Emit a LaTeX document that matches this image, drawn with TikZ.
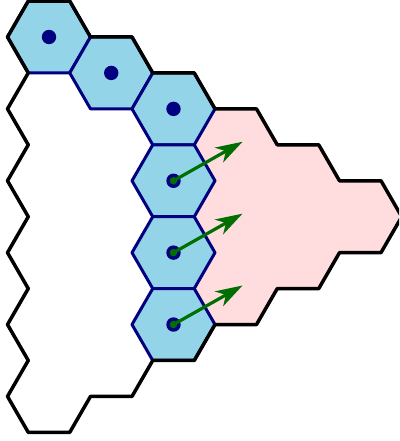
\documentclass[tikz,border=0pt]{standalone}
\usetikzlibrary{arrows.meta}
\definecolor{hexblue}{RGB}{147,212,232}
\definecolor{hexpink}{RGB}{255,220,221}
\definecolor{hexnavy}{RGB}{0,0,128}
\definecolor{arrgreen}{RGB}{0,110,0}
\tikzset{
  pinkarea/.style={fill=hexpink},
  bluecell/.style={fill=hexblue, draw=hexnavy, line width=3pt, line join=round},
  outline/.style={draw=black, line width=3.5pt, line join=round},
  navydot/.style={fill=hexnavy},
  greendot/.style={fill=arrgreen},
  move/.style={draw=arrgreen, line width=3.2pt, -{Stealth[length=27pt,width=17pt,inset=8pt]}},
}
\newcommand\hexat[1]{(#1) ++(41.5,0) -- ++(-20.75,35.94) -- ++(-41.5,0) -- ++(-20.75,-35.94) -- ++(20.75,-35.94) -- ++(41.5,0) -- cycle}
\begin{document}
\begin{tikzpicture}[x=1pt,y=-1pt]
\useasboundingbox (0,0) rectangle (399,441);
\clip (0,0) rectangle (399,441);
% hex centres
\coordinate (A) at (49,37);
\coordinate (B) at (111.25,72.94);
\coordinate (C) at (173.5,108.88);
\coordinate (D) at (173.5,180.76);
\coordinate (E) at (173.5,252.64);
\coordinate (F) at (173.5,324.52);
% pink region
\path[pinkarea] (215,108.88) -- (256.5,108.88) -- (277.25,144.82) -- (318.75,144.82)
  -- (339.5,180.76) -- (381,180.76) -- (401.75,216.7) -- (381,252.64) -- (339.5,252.64)
  -- (318.75,288.58) -- (277.25,288.58) -- (256.5,324.52) -- (215,324.52)
  -- (194.25,288.58) -- (215,252.64) -- (194.25,216.7) -- (215,180.76) -- (194.25,144.82) -- cycle;
% blue cells
\foreach \h in {A,B,C,D,E,F} { \path[bluecell] \hexat{\h}; }
% outline of the whole triangle
\path[outline] (7.5,37) -- (28.25,1.06) -- (69.75,1.06) -- (90.5,37) -- (132,37) -- (152.75,72.94)
  -- (194.25,72.94) -- (215,108.88) -- (256.5,108.88) -- (277.25,144.82) -- (318.75,144.82)
  -- (339.5,180.76) -- (381,180.76) -- (401.75,216.7) -- (381,252.64) -- (339.5,252.64)
  -- (318.75,288.58) -- (277.25,288.58) -- (256.5,324.52) -- (215,324.52) -- (194.25,360.46)
  -- (152.75,360.46) -- (132,396.4) -- (90.5,396.4) -- (69.75,432.34) -- (28.25,432.34)
  -- (7.5,396.4) -- (28.25,360.46) -- (7.5,324.52) -- (28.25,288.58) -- (7.5,252.64)
  -- (28.25,216.7) -- (7.5,180.76) -- (28.25,144.82) -- (7.5,108.88) -- (28.25,72.94) -- cycle;
% dots
\foreach \h in {A,B,C,D,E,F} { \fill[navydot] (\h) circle (7.2pt); }
% arrows
\foreach \h in {D,E,F} {
  \coordinate (\h t) at ([shift={(69,-39)}]\h);
  \draw[move] (\h) -- (\h t);
  \fill[greendot] (\h) circle (3.8pt);
}
\end{tikzpicture}
\end{document}
